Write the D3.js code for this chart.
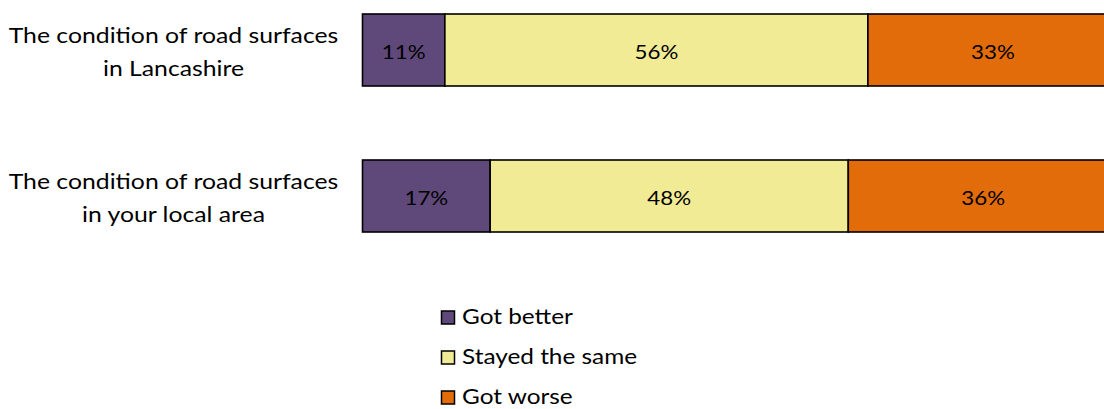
<!DOCTYPE html>
<html><head><meta charset="utf-8">
<script src="https://cdn.jsdelivr.net/npm/d3@7"></script>
<style>body{margin:0;background:#fff}svg{display:block}</style>
</head><body>
<script>
const categories = [["The condition of road surfaces","in Lancashire"],["The condition of road surfaces","in your local area"]];
const seriesNames = ["Got better","Stayed the same","Got worse"];
const gotBetter = [10.9, 16.9];
const stayedSame = [56.0, 47.4];
const gotWorse = [33.1, 35.7];
const labelBetter = ["11%","17%"];
const labelSame = ["56%","48%"];
const labelWorse = ["33%","36%"];
const colors = ["#5F497A","#F1EB96","#E36C0A"];

const W=1104,H=409;
const font="Lato, 'Open Sans', sans-serif";
const SX=1.18;
const svg=d3.select("body").append("svg").attr("width",W).attr("height",H);
const x=d3.scaleLinear().domain([0,100]).range([362.5,1118]);
const yTop=d3.scaleBand().domain([0,1]).range([14,232]).paddingInner(74/146).paddingOuter(0);
const barH=yTop.bandwidth();
const series=[gotBetter,stayedSame,gotWorse];
const labels=[labelBetter,labelSame,labelWorse];
const stacked=categories.map((c,i)=>{let acc=0;return series.map((s,k)=>{const d={i,k,x0:acc,x1:acc+s[i],label:labels[k][i]};acc+=s[i];return d;});}).flat();

svg.selectAll("rect.seg").data(stacked).join("rect").attr("class","seg")
 .attr("x",d=>x(d.x0)).attr("width",d=>x(d.x1)-x(d.x0))
 .attr("y",d=>yTop(d.i)).attr("height",barH)
 .attr("fill",d=>colors[d.k]).attr("stroke","#000").attr("stroke-width",1.6);

svg.selectAll("g.val").data(stacked).join("g").attr("class","val")
 .attr("transform",d=>`translate(${(x(d.x0)+x(d.x1))/2},${yTop(d.i)+45}) scale(1.2,1)`)
 .append("text").attr("text-anchor","middle")
 .style("font-family",font).style("font-size","18.6px").attr("fill","#000").text(d=>d.label);

categories.forEach((c,i)=>{
  c.forEach((line,j)=>{
    svg.append("g").attr("transform",`translate(173.5,${yTop(i)+29+j*33}) scale(${SX},1)`)
      .append("text").attr("text-anchor","middle").style("font-family",font).style("font-size","21px").attr("fill","#000").text(line);
  });
});

const leg=svg.append("g");
seriesNames.forEach((n,k)=>{
  const base=324+k*40;
  leg.append("rect").attr("x",441.5).attr("y",base-13).attr("width",13).attr("height",13).attr("fill",colors[k]).attr("stroke","#000").attr("stroke-width",1.5);
  leg.append("g").attr("transform",`translate(462,${base}) scale(1.16,1)`)
    .append("text").style("font-family",font).style("font-size","21px").attr("fill","#000").text(n);
});
</script>
</body></html>
